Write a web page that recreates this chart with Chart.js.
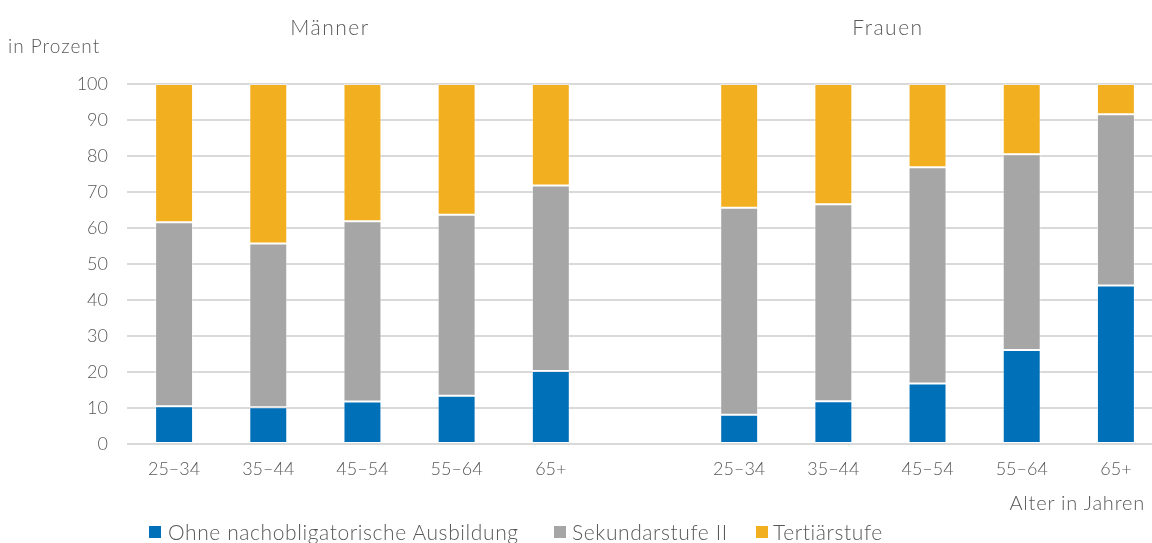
<!DOCTYPE html>
<html lang="de">
<head>
<meta charset="utf-8">
<title>Bildungsstand nach Alter und Geschlecht</title>
<script src="https://cdn.jsdelivr.net/npm/chart.js@4"></script>
<style>
  html, body { margin: 0; padding: 0; background: #fff; overflow: hidden; }
  body { width: 1152px; height: 543px; position: relative;
         font-family: Lato, "Open Sans", sans-serif; font-weight: 300; color: #595959; }
  #wrap { position: absolute; left: 0; top: 0; width: 1175px; height: 543px; }
  .txt { position: absolute; white-space: nowrap; line-height: 1; }
  .sq { position: absolute; width: 12px; height: 12px; }
  .leg { font-size: 21px; letter-spacing: 0.6px; top: 521px; }
</style>
</head>
<body>
<div id="wrap"><canvas id="grafico" width="1175" height="543"></canvas></div>

<div class="txt" style="left:8px; top:36px; font-size:19px; letter-spacing:1px;">in Prozent</div>
<div class="txt" style="left:330px; top:16px; font-size:21px; letter-spacing:1.5px; transform:translateX(-50%);">Männer</div>
<div class="txt" style="left:888px; top:16px; font-size:21px; letter-spacing:1.5px; transform:translateX(-50%);">Frauen</div>
<div class="txt" style="right:7px; top:492px; font-size:20px; letter-spacing:0.8px;">Alter in Jahren</div>

<div class="sq" style="left:149px; top:526px; background:#0070b8;"></div>
<div class="txt leg" style="left:168px;">Ohne nachobligatorische Ausbildung</div>
<div class="sq" style="left:554px; top:526px; background:#a6a6a6;"></div>
<div class="txt leg" style="left:572px;">Sekundarstufe II</div>
<div class="sq" style="left:756px; top:526px; background:#f2b021;"></div>
<div class="txt leg" style="left:773px;">Tertiärstufe</div>

<script>
// Altersgruppen
const alter = ["25–34", "35–44", "45–54", "55–64", "65+"];
const kategorien = [...alter, "", ...alter];

// Anteile in Prozent
const maennerOhne = [10.5, 10.2, 11.8, 13.4, 20.3];
const maennerSek2 = [51.1, 45.5, 50.1, 50.3, 51.5];
const maennerTert = [38.4, 44.3, 38.1, 36.3, 28.2];

const frauenOhne = [8.1, 11.9, 16.8, 26.1, 44.0];
const frauenSek2 = [57.5, 54.7, 60.1, 54.4, 47.6];
const frauenTert = [34.4, 33.4, 23.1, 19.5, 8.4];

const yTicks = [0, 10, 20, 30, 40, 50, 60, 70, 80, 90, 100];

const reihe = (m, f) => [...m, null, ...f];

const ctx = document.getElementById("grafico").getContext("2d");
new Chart(ctx, {
  type: "bar",
  data: {
    labels: kategorien,
    datasets: [
      { label: "Ohne nachobligatorische Ausbildung", data: reihe(maennerOhne, frauenOhne), backgroundColor: "#0070b8" },
      { label: "Sekundarstufe II", data: reihe(maennerSek2, frauenSek2), backgroundColor: "#a6a6a6" },
      { label: "Tertiärstufe", data: reihe(maennerTert, frauenTert), backgroundColor: "#f2b021" }
    ]
  },
  options: {
    responsive: false,
    animation: false,
    layout: { padding: { top: 84, right: 12, left: 0, bottom: 0 } },
    datasets: {
      bar: {
        categoryPercentage: 1,
        barPercentage: 0.403,
        borderWidth: 1,
        borderColor: "rgba(255,255,255,0.45)",
        borderSkipped: false
      }
    },
    plugins: { legend: { display: false }, tooltip: { enabled: false } },
    scales: {
      x: {
        stacked: true,
        grid: { display: false, drawTicks: false },
        border: { display: false },
        ticks: { color: "#595959", padding: 14, font: { family: "Lato", size: 18, weight: 300 } },
        afterFit: s => { s.height = 99; }
      },
      y: {
        stacked: true,
        min: 0,
        max: 100,
        afterBuildTicks: s => { s.ticks = yTicks.map(v => ({ value: v })); },
        grid: { color: "#d9d9d9", lineWidth: 2, drawTicks: false },
        border: { display: false },
        ticks: { color: "#595959", padding: 19, font: { family: "Lato", size: 18, weight: 300 } },
        afterFit: s => { s.width = 127; }
      }
    }
  }
});
</script>
</body>
</html>
